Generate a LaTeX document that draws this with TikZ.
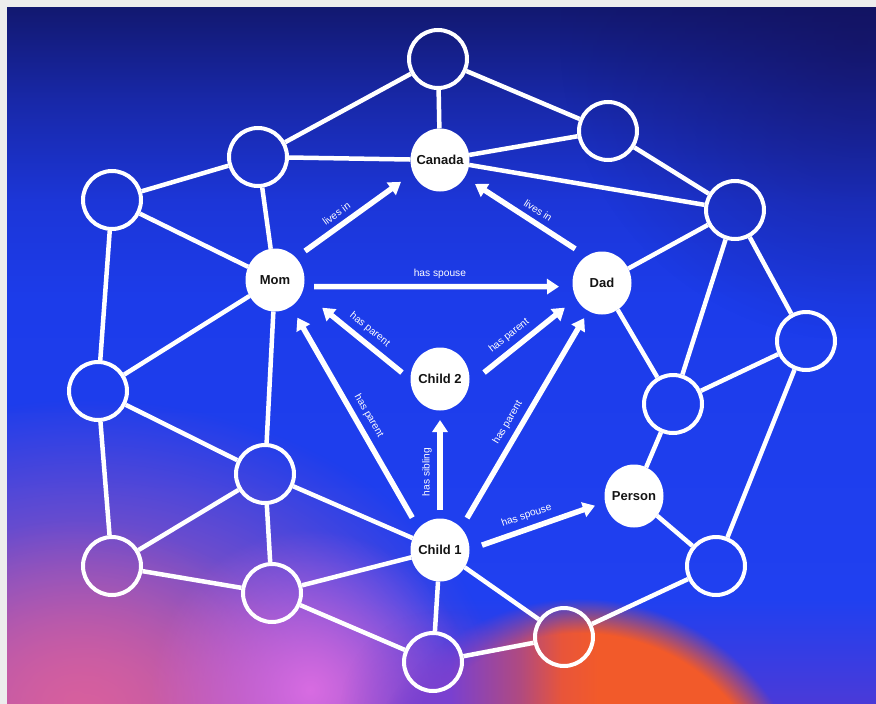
\documentclass[tikz,border=0pt]{standalone}
\usepackage{fontspec}
\setmainfont{Liberation Sans}
\usetikzlibrary{shapes.geometric,arrows.meta,fadings}
\definecolor{framegray}{HTML}{EDEDED}
\definecolor{bgA}{HTML}{121870}
\definecolor{bgB}{HTML}{1828A8}
\definecolor{bgC}{HTML}{1C36D8}
\definecolor{bgD}{HTML}{1C3CEA}
\definecolor{bgE}{HTML}{2040F0}
\definecolor{bgF}{HTML}{4A3AD8}
\definecolor{pinkish}{HTML}{D8609E}
\definecolor{magent}{HTML}{D86CE2}
\definecolor{violet}{HTML}{7A40D0}
\definecolor{redviolet}{HTML}{B04A80}
\definecolor{orangeA}{HTML}{E8553A}
\definecolor{orangeblob}{HTML}{F25A2A}
\definecolor{darknavy}{HTML}{140F55}
\definecolor{nodetext}{HTML}{141414}
\pgfdeclareverticalshading{bgshade}{100bp}{color(0bp)=(bgF); color(25bp)=(bgF); color(32.5bp)=(bgE); color(54bp)=(bgD); color(61bp)=(bgC); color(68.3bp)=(bgB); color(75bp)=(bgA); color(100bp)=(bgA)}
\pgfdeclarehorizontalshading{orangeshade}{100bp}{color(0bp)=(violet); color(36bp)=(violet); color(43.5bp)=(redviolet); color(48bp)=(orangeA); color(52bp)=(orangeblob); color(100bp)=(orangeblob)}
\tikzfading[name=softblob, inner color=transparent!0, outer color=transparent!100]
\newcommand\entfont{\fontsize{13}{15}\selectfont\bfseries}
\newcommand\labfont{\fontsize{10.2}{12}\selectfont}
\begin{document}
\begin{tikzpicture}[x=1pt,y=-1pt,
  hollow/.style={circle, draw=white, line width=4pt, minimum size=58pt, inner sep=0pt},
  ent/.style={ellipse, fill=white, minimum width=59pt, minimum height=63pt, inner sep=0pt, outer sep=0pt,
    label={[font=\entfont, text=nodetext]center:#1}},
  edge/.style={draw=white, line width=4.5pt},
  arr/.style={draw=white, line width=5.5pt, -{Triangle[width=15pt,length=12pt]}},
  lab/.style={font=\labfont, text=white, sloped, above, inner sep=5.5pt, pos=#1}
]
\useasboundingbox (0,0) rectangle (876,704);
% background
\fill[framegray] (0,0) rectangle (876,704);
\begin{scope}
  \clip (7,7) rectangle (876,704);
  \shade[shading=bgshade] (7,7) rectangle (876,704);
  \fill[darknavy, opacity=0.55, path fading=softblob] (560,-260) rectangle (1160,340);
  \fill[pinkish, path fading=softblob] (-330,400) rectangle (500,1020);
  \fill[pinkish, opacity=0.7, path fading=softblob] (-150,520) rectangle (300,880);
  \fill[magent, path fading=softblob] (150,530) rectangle (470,850);
  \fill[violet, opacity=0.7, path fading=softblob] (340,610) rectangle (540,810);
  \shade[shading=orangeshade, path fading=circle with fuzzy edge 15 percent] (349,599) rectangle (811,1061);
\end{scope}

% hollow nodes
\node[hollow] (t)  at (438,59)  {};
\node[hollow] (tl) at (258,157) {};
\node[hollow] (tr) at (608,131) {};
\node[hollow] (l1) at (112,200) {};
\node[hollow] (r1) at (735,210) {};
\node[hollow] (r2) at (806,341) {};
\node[hollow] (l2) at (98,391)  {};
\node[hollow] (r3) at (673,404) {};
\node[hollow] (m1) at (265,474) {};
\node[hollow] (l3) at (112,566) {};
\node[hollow] (m2) at (272,593) {};
\node[hollow] (r4) at (716,566) {};
\node[hollow] (b1) at (564,637) {};
\node[hollow] (b2) at (433,662) {};

% entity nodes
\node[ent=Canada]  (canada) at (440,160) {};
\node[ent=Mom]     (mom)    at (275,280) {};
\node[ent=Dad]     (dad)    at (602,283) {};
\node[ent=Child 2] (child2) at (440,379) {};
\node[ent=Person]  (person) at (634,496) {};
\node[ent=Child 1] (child1) at (440,550) {};

% undirected edges
\foreach \a/\b in {t/tl, t/canada, t/tr, tl/canada, tl/l1, tl/mom, canada/tr, canada/r1,
  tr/r1, l1/l2, l1/mom, mom/l2, mom/m1, l2/l3, l2/m1, m1/l3, m1/m2, m1/child1,
  l3/m2, m2/child1, m2/b2, child1/b2, child1/b1, b2/b1, b1/r4, r4/person, r4/r2,
  person/r3, r3/dad, r3/r1, r3/r2, r1/r2, dad/r1}
  \draw[edge] (\a) -- (\b);

% relations
\draw[arr, shorten <=11.4pt, shorten >=15pt] (mom.47) -- (canada.206) node[lab=0.406]{lives in};
\draw[arr, shorten <=13.5pt, shorten >=12.3pt] (dad.120.5) -- (canada.-35) node[lab=0.451]{lives in};
\draw[arr, shorten <=10.2pt, shorten >=13.7pt] (mom.-13.7) -- (dad.187.8) node[lab=0.506]{has spouse};
\draw[arr, shorten <=11pt, shorten >=25.5pt] (child2.181.7) -- (mom.-23.6) node[lab=0.453]{has parent};
\draw[arr, shorten <=19.3pt, shorten >=14.7pt] (child2.-11.9) -- (dad.211.8) node[lab=0.45]{has parent};
\draw[arr, shorten <=8.5pt, shorten >=9.5pt] (child1.north) -- (child2.south) node[lab=0.43]{has sibling};
\draw[arr, shorten <=13.2pt, shorten >=10.7pt] (child1.1.5) -- (person.192.9) node[lab=0.453]{has spouse};
\draw[arr, shorten <=12.5pt, shorten >=12.9pt] (child1.135.8) -- (mom.-59.8) node[lab=0.478]{has parent};
\draw[arr, shorten <=11.6pt, shorten >=8.3pt] (child1.46.2) -- (dad.-116.4) node[lab=0.455]{has parent};
\end{tikzpicture}
\end{document}
